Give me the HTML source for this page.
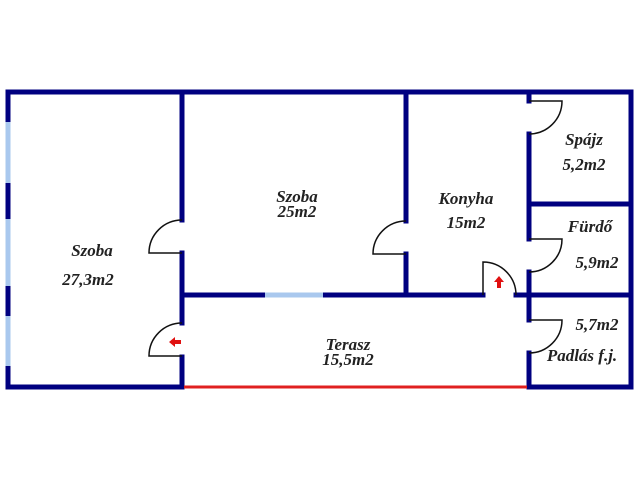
<!DOCTYPE html>
<html><head><meta charset="utf-8"><style>
html,body{margin:0;padding:0;background:#fff;width:640px;height:480px;overflow:hidden}
</style></head><body>
<svg width="640" height="480" viewBox="0 0 640 480" xmlns="http://www.w3.org/2000/svg">
<g stroke="#000080" stroke-width="5" fill="none" stroke-linecap="square">
<line x1="8" y1="92" x2="631" y2="92"/>
<line x1="631" y1="92" x2="631" y2="387"/>
<line x1="8" y1="92" x2="8" y2="387"/>
<line x1="8" y1="387" x2="182" y2="387"/>
<line x1="529" y1="387" x2="631" y2="387"/>
<line x1="182" y1="92" x2="182" y2="220"/>
<line x1="182" y1="253" x2="182" y2="323"/>
<line x1="182" y1="357" x2="182" y2="387"/>
<line x1="406" y1="92" x2="406" y2="221"/>
<line x1="406" y1="254" x2="406" y2="295"/>
<line x1="529" y1="92" x2="529" y2="101"/>
<line x1="529" y1="134" x2="529" y2="239"/>
<line x1="529" y1="272" x2="529" y2="320"/>
<line x1="529" y1="353" x2="529" y2="387"/>
<line x1="182" y1="295" x2="263" y2="295"/>
<line x1="325" y1="295" x2="483" y2="295"/>
<line x1="516" y1="295" x2="631" y2="295"/>
<line x1="529" y1="204" x2="631" y2="204"/>
</g>
<g stroke="#a9c8ee" stroke-width="5">
<line x1="8" y1="122" x2="8" y2="183"/>
<line x1="8" y1="219" x2="8" y2="286"/>
<line x1="8" y1="316" x2="8" y2="366"/>
<line x1="265" y1="295" x2="323" y2="295"/>
</g>
<line x1="184" y1="387" x2="527" y2="387" stroke="#e02020" stroke-width="3"/>
<g stroke="#111" stroke-width="1.5" fill="none">
<path d="M182 220 A33 33 0 0 0 149 253 L182 253"/>
<path d="M182 323 A33 33 0 0 0 149 356 L182 356"/>
<path d="M406 221 A33 33 0 0 0 373 254 L406 254"/>
<path d="M483 295 L483 262 A33 33 0 0 1 516 295"/>
<path d="M529 101 L562 101 A33 33 0 0 1 529 134"/>
<path d="M529 239 L562 239 A33 33 0 0 1 529 272"/>
<path d="M529 320 L562 320 A33 33 0 0 1 529 353"/>
</g>
<g fill="#e01010">
<polygon points="169,342 175,337 175,340 181,340 181,344 175,344 175,347"/>
<polygon points="499,276 494,282 497,282 497,288 501,288 501,282 504,282"/>
</g>
<g font-family="'Liberation Serif','DejaVu Serif',serif" font-style="italic" font-weight="bold" font-size="17" fill="#222" text-anchor="middle">
<text x="92" y="256">Szoba</text>
<text x="88" y="285">27,3m2</text>
<text x="297" y="202">Szoba</text>
<text x="297" y="217">25m2</text>
<text x="466" y="204">Konyha</text>
<text x="466" y="228">15m2</text>
<text x="584" y="145">Spájz</text>
<text x="584" y="170">5,2m2</text>
<text x="590" y="232">Fürdő</text>
<text x="597" y="268">5,9m2</text>
<text x="597" y="330">5,7m2</text>
<text x="582" y="361">Padlás f.j.</text>
<text x="348" y="350">Terasz</text>
<text x="348" y="365">15,5m2</text>
</g>
</svg>
</body></html>
